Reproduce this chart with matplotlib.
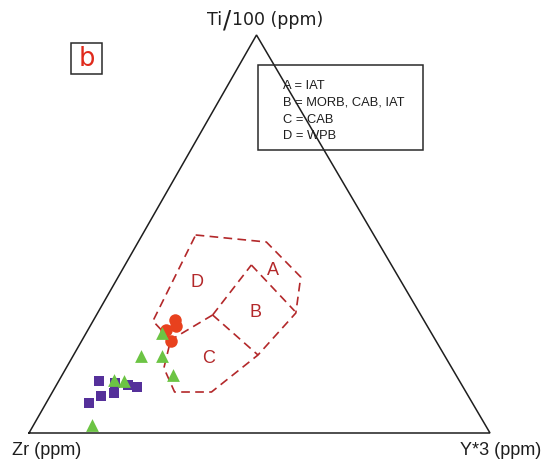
import matplotlib
matplotlib.use("Agg")
import matplotlib.pyplot as plt
import numpy as np

# Sample compositions, normalised to 100 (Zr, Ti/100, Y*3)
sq_zr = [78.1, 83.2, 79.7, 76.4, 75.0, 72.5, 70.6]
sq_ti = [13.1, 7.6, 9.2, 10.0, 12.6, 12.1, 11.6]
sq_y = [8.8, 9.2, 11.1, 13.6, 12.4, 15.4, 17.8]

tri_zr = [85.3, 74.9, 72.7, 66.0, 61.4, 61.4, 58.4]
tri_ti = [2.0, 13.3, 13.1, 19.4, 19.3, 14.6, 25.1]
tri_y = [12.7, 11.8, 14.2, 14.7, 19.3, 24.1, 16.5]

circ_zr = [53.9, 54.6, 57.2, 57.6]
circ_ti = [28.5, 26.8, 25.9, 23.0]
circ_y = [17.6, 18.6, 16.9, 19.4]

# Discrimination field boundaries (Ti fraction, Y fraction)
outer_ti = [0.4975, 0.4799, 0.392, 0.3015, 0.196, 0.103, 0.103, 0.1633, 0.2337, 0.2814, 0.4975]
outer_y = [0.116, 0.278, 0.396, 0.430, 0.400, 0.345, 0.265, 0.212, 0.192, 0.130, 0.116]
bd_ti = [0.2965, 0.4221]          # B / D
bd_y = [0.252, 0.274]
ab_ti = [0.4221, 0.3065]          # A / B
ab_y = [0.274, 0.425]
bc_ti = [0.2965, 0.196]           # B / C
bc_y = [0.252, 0.400]
cd_ti = [0.2965, 0.2337]          # C / D
cd_y = [0.252, 0.192]

field_names = ["A", "B", "C", "D"]
field_ti = [0.4095, 0.304, 0.1884, 0.377]
field_y = [0.327, 0.341, 0.296, 0.178]

legend_lines = ["A = IAT", "B = MORB, CAB, IAT", "C = CAB", "D = WPB"]

# Triangle corners in canvas coordinates
ZR = np.array([29.0, 433.0])
YV = np.array([490.0, 433.0])
TI = np.array([256.5, 35.0])


def to_xy(ti, y):
    ti = np.asarray(ti, float)
    y = np.asarray(y, float)
    zr = 1.0 - ti - y
    pts = np.outer(zr, ZR) + np.outer(ti, TI) + np.outer(y, YV)
    return pts[:, 0], pts[:, 1]


def to_xy_pct(zr, ti, y):
    zr, ti, y = (np.asarray(v, float) for v in (zr, ti, y))
    s = zr + ti + y
    return to_xy(ti / s, y / s)


fig = plt.figure(figsize=(5.44, 4.61), dpi=100)
ax = fig.add_axes([0, 0, 1, 1])
ax.set_xlim(0, 544)
ax.set_ylim(461, 0)
ax.axis("off")

ink = "#1e1e1e"

# Triangle frame
frame = np.array([ZR, TI, YV, ZR])
ax.plot(frame[:, 0], frame[:, 1], color=ink, lw=1.1, zorder=2,
        solid_joinstyle="miter")

# Field boundaries
fc = "#b3282a"
dash = (0, (5.2, 3.2))
for tt, yy in [(outer_ti, outer_y), (bd_ti, bd_y), (ab_ti, ab_y),
               (bc_ti, bc_y), (cd_ti, cd_y)]:
    x, yv = to_xy(tt, yy)
    ax.plot(x, yv, color=fc, lw=1.2, linestyle=dash, zorder=3)

for name, tt, yy in zip(field_names, field_ti, field_y):
    x, yv = to_xy([tt], [yy])
    ax.text(x[0], yv[0], name, color=fc, fontsize=13, ha="center",
            va="center", family="Liberation Sans", zorder=3)

# Samples
x, yv = to_xy_pct(sq_zr, sq_ti, sq_y)
ax.scatter(x, yv, marker="s", s=7.3 ** 2, color="#55309a", linewidths=0, zorder=4)
x, yv = to_xy_pct(circ_zr, circ_ti, circ_y)
ax.scatter(x, yv, marker="o", s=9.0 ** 2, color="#e8411e", linewidths=0, zorder=5)
x, yv = to_xy_pct(tri_zr, tri_ti, tri_y)
ax.scatter(x, yv, marker="^", s=9.2 ** 2, color="#6cc444", linewidths=0, zorder=6)

# Corner labels
ax.text(12, 450, "Zr (ppm)", fontsize=13, family="Liberation Sans",
        ha="left", va="center", color=ink)
ax.text(541, 450, "Y*3 (ppm)", fontsize=13, family="Liberation Sans",
        ha="right", va="center", color=ink)

# Top label: "Ti" + tall slash + "100 (ppm)", laid out left to right
fig.canvas.draw()
renderer = fig.canvas.get_renderer()
inv = ax.transData.inverted()
parts = [("Ti", 12.5, 0.0), ("/", 17.5, 1.0), ("100 (ppm)", 12.5, 0.0)]
cur_x = 207.0
for txt, size, pad in parts:
    t = ax.text(cur_x + pad, 20, txt, fontsize=size, family="DejaVu Sans",
                ha="left", va="center", color=ink)
    bb = t.get_window_extent(renderer)
    x1, _ = inv.transform((bb.x1, bb.y0))
    cur_x = x1 + pad

# Key box
ax.add_patch(plt.Rectangle((258, 65), 165, 85, fill=False, ec="#2a2a2a",
                           lw=1.1, zorder=7))
for i, line in enumerate(legend_lines):
    ax.text(283, 86 + i * 16.8, line, fontsize=9.3, family="Liberation Sans",
            ha="left", va="center", color=ink, zorder=8)

# Panel tag
ax.add_patch(plt.Rectangle((71, 43.5), 31, 30.5, fill=False, ec="#2a2a2a",
                           lw=1.1, zorder=7))
ax.text(86.5, 58.5, "b", fontsize=18.5, family="DejaVu Sans", color="#e02a1c",
        ha="center", va="center", zorder=8)

fig.savefig("out.png", dpi=100)
